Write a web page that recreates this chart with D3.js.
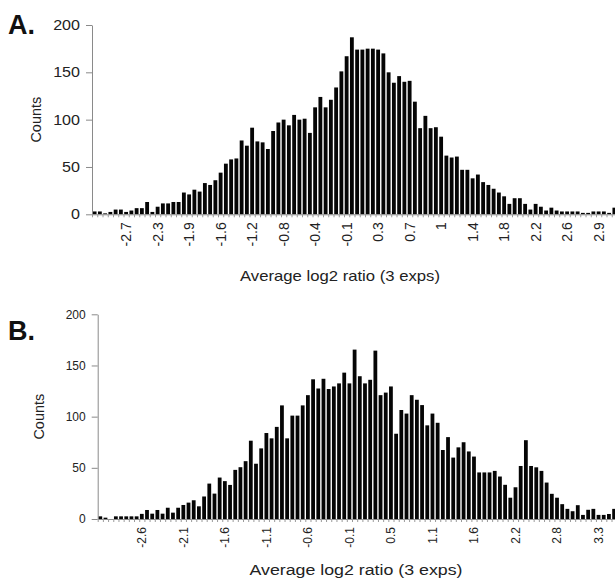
<!DOCTYPE html>
<html>
<head>
<meta charset="utf-8">
<script src="https://cdn.jsdelivr.net/npm/d3@7"></script>
<style>
  body { margin: 0; background: #fff; }
  svg { display: block; }
  text { font-family: "Liberation Sans", Arial, sans-serif; }
</style>
</head>
<body>
<svg id="chart" width="615" height="580"></svg>
<script>
// histogram counts, one value per bin (100 bins each)
const countsA = [
  3, 3, 1, 2.5, 5, 5, 2.5, 4, 6.5, 6.5, 13, 2.5, 8, 11.5, 11.5, 13, 13, 23, 21, 26,
  24, 33, 31, 36, 44, 53.5, 58, 59, 78, 72.5, 91.5, 77, 76, 69, 88, 97, 100, 94, 105, 100,
  101, 86, 113, 124, 113, 121, 134, 151, 167, 187, 174, 174, 175, 175, 174, 170, 150, 139, 146, 140,
  141, 119, 91, 104, 91, 92, 82, 62, 60, 61, 47, 47, 38, 42, 34, 31, 27, 23, 19, 11,
  17, 17, 11, 5, 11, 8, 4, 7, 4, 3, 3, 3, 3, 1.5, 1.5, 3, 3, 3, 1.5, 7
]
const countsB = [
  2.6, 1.3, 0, 2.6, 2.6, 2.6, 2.6, 2.6, 5, 8.8, 5.2, 8.8, 5.2, 11, 6.2, 11, 13.7, 16, 18.3, 12.4,
  22, 34.6, 24.8, 40.5, 37, 33.3, 48, 50.6, 56.5, 76.5, 54, 69, 84, 78.8, 90, 111, 78.8, 101, 101, 111,
  121, 136.5, 127.5, 137, 127, 129.5, 132.5, 143, 132.5, 165.5, 139.5, 132.5, 136, 164.5, 121, 123.5, 129.5, 83.3, 106.5, 103,
  121, 116.5, 111.3, 91.5, 103, 94, 67.4, 80, 60, 70, 75, 66, 61, 45.5, 45.5, 45.5, 47, 41.5, 33.4, 20.8,
  31, 51.8, 77, 51.8, 50.5, 47, 35.6, 24.6, 20.8, 14.5, 9.9, 7.6, 13.5, 4, 9, 9.9, 4, 4, 4.9, 9.9
]

// category axis labels (Excel shows one label every few bins)
const tickLabelsA = ['-2.7', '-2.3', '-1.9', '-1.6', '-1.2', '-0.8', '-0.4', '-0.1',
  '0.3', '0.7', '1', '1.4', '1.8', '2.2', '2.6', '2.9']
const tickLabelsB = ['-2.6', '-2.1', '-1.6', '-1.1', '-0.6', '-0.1',
  '0.5', '1.1', '1.6', '2.2', '2.8', '3.3']
const countTicks = [0, 50, 100, 150, 200]

const xTitle = 'Average log2 ratio (3 exps)'
const yTitle = 'Counts'

/****************************************************************
    layout of the two panels
/****************************************************************/
const panels = [
  {
    letter: 'A.', counts: countsA, labels: tickLabelsA, labelFirst: 6, labelEvery: 6,
    left: 92, right: 617, zeroY: 214.3, topY: 25,
    tickFont: 14, yTickScale: 1.15, countsFont: 14.5, titleFont: 14.5,
    letterY: 34, countsX: 35.5, titleX: 340, titleY: 281, titleW: 200
  },
  {
    letter: 'B.', counts: countsB, labels: tickLabelsB, labelFirst: 8, labelEvery: 8,
    left: 97.7, right: 616.7, zeroY: 519, topY: 314.3,
    tickFont: 12, yTickScale: 1, countsFont: 14.5, titleFont: 15.5,
    letterY: 340, countsX: 39, titleX: 356, titleY: 575, titleW: 213
  }
]

const svg = d3.select('#chart')

function drawPanel(p) {
  const g = svg.append('g')
  const n = p.counts.length
  const bins = d3.range(n)

  const x = d3.scaleBand()
    .domain(bins)
    .range([p.left, p.right])
    .paddingInner(0.27)
    .paddingOuter(0.135)
  const xEdge = d3.scaleLinear().domain([0, n]).range([p.left, p.right])
  const y = d3.scaleLinear().domain([0, 200]).range([p.zeroY, p.topY])

  // bars
  g.append('g')
    .selectAll('rect')
    .data(p.counts)
    .join('rect')
    .attr('x', (d, i) => x(i))
    .attr('width', x.bandwidth())
    .attr('y', d => y(d))
    .attr('height', d => y(0) - y(d))
    .attr('fill', '#050505')

  // y axis
  const yAxis = g.append('g')
    .attr('transform', `translate(${p.left},0)`)
    .call(d3.axisLeft(y).tickValues(countTicks).tickSize(6).tickSizeOuter(0).tickPadding(6))
  yAxis.select('.domain').attr('stroke', '#8a8a8a')
  yAxis.selectAll('.tick line').attr('stroke', '#8a8a8a')
  yAxis.selectAll('.tick text')
    .attr('font-size', p.tickFont)
    .attr('fill', '#222')
    .attr('transform', `translate(-12,0) scale(${p.yTickScale},1) translate(12,0)`)
    .style('font-family', '"Liberation Sans", Arial, sans-serif')

  // x axis: a small tick between every bin
  const xAxis = g.append('g')
    .attr('transform', `translate(0,${p.zeroY})`)
    .call(d3.axisBottom(xEdge).tickValues(d3.range(n + 1)).tickSize(3).tickSizeOuter(0).tickFormat(''))
  xAxis.select('.domain').attr('stroke', '#8a8a8a')
  xAxis.selectAll('.tick line').attr('stroke', '#9a9a9a')

  // rotated category labels
  const labelBins = p.labels.map((l, i) => p.labelFirst + i * p.labelEvery)
  const labelAxis = g.append('g')
    .attr('transform', `translate(0,${p.zeroY})`)
    .call(d3.axisBottom(x).tickValues(labelBins).tickSize(0).tickPadding(0)
      .tickFormat((d, i) => p.labels[i]))
  labelAxis.select('.domain').remove()
  labelAxis.selectAll('.tick text')
    .attr('font-size', p.tickFont)
    .attr('fill', '#222')
    .attr('text-anchor', 'end')
    .attr('transform', 'rotate(-90)')
    .attr('x', -8)
    .attr('y', 0)
    .attr('dy', '0.35em')
    .style('font-family', '"Liberation Sans", Arial, sans-serif')

  // titles
  g.append('text')
    .attr('x', 8)
    .attr('y', p.letterY)
    .attr('font-size', 27)
    .attr('font-weight', 'bold')
    .attr('fill', '#111')
    .text(p.letter)

  g.append('text')
    .attr('transform', `translate(${p.countsX},${(p.zeroY + p.topY) / 2}) rotate(-90)`)
    .attr('text-anchor', 'middle')
    .attr('dy', '0.35em')
    .attr('font-size', p.countsFont)
    .attr('fill', '#222')
    .text(yTitle)

  g.append('text')
    .attr('x', p.titleX)
    .attr('y', p.titleY)
    .attr('text-anchor', 'middle')
    .attr('font-size', p.titleFont)
    .attr('fill', '#222')
    .attr('textLength', p.titleW)
    .attr('lengthAdjust', 'spacingAndGlyphs')
    .text(xTitle)
}

panels.forEach(drawPanel)
</script>
</body>
</html>
